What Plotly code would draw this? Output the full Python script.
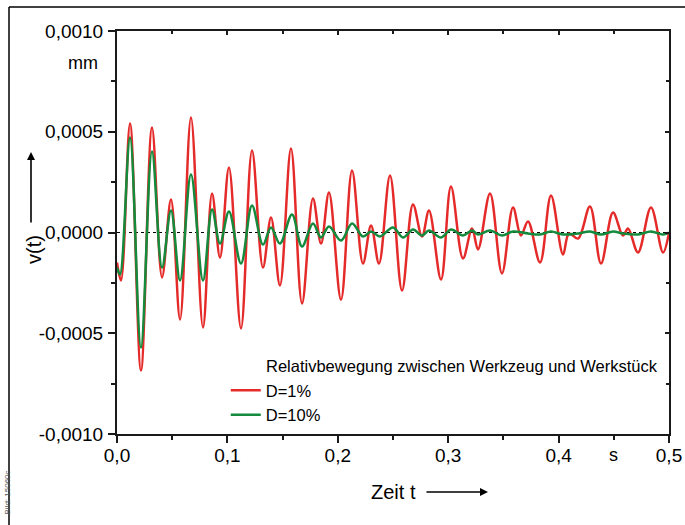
import plotly.graph_objects as go

# ---- data ----
t_red = [0.0000, 0.0036, 0.0118, 0.0217, 0.0317, 0.0408, 0.0489, 0.0571, 0.0670, 0.0779,
         0.0861, 0.0933, 0.1014, 0.1123, 0.1223, 0.1322, 0.1395, 0.1476, 0.1576, 0.1676,
         0.1775, 0.1848, 0.1920, 0.2029, 0.2129, 0.2228, 0.2301, 0.2373, 0.2473, 0.2582,
         0.2681, 0.2763, 0.2826, 0.2935, 0.3025, 0.3134, 0.3216, 0.3270, 0.3379, 0.3487,
         0.3587, 0.3659, 0.3723, 0.3832, 0.3931, 0.4040, 0.4094, 0.4176, 0.4284, 0.4384,
         0.4493, 0.4583, 0.4629, 0.4719, 0.4837, 0.4946, 0.5000]
v_red = [-0.000149, -0.000238, 0.000541, -0.000685, 0.000521, -0.000223, 0.000164, -0.000432, 0.000571, -0.000471,
         0.000194, -0.000124, 0.000323, -0.000476, 0.000407, -0.000174, 0.000074, -0.000263, 0.000417, -0.000352,
         0.000169, -0.000055, 0.000199, -0.000333, 0.000308, -0.000154, 0.000035, -0.000154, 0.000283, -0.000288,
         0.000139, -0.000020, 0.000109, -0.000233, 0.000228, -0.000129, 0.000020, -0.000084, 0.000194, -0.000203,
         0.000124, -0.000015, 0.000055, -0.000149, 0.000184, -0.000109, -0.000005, -0.000030, 0.000129, -0.000154,
         0.000099, -0.000015, 0.000020, -0.000099, 0.000124, -0.000099, 0.000000]

t_green = [0.0000, 0.0027, 0.0118, 0.0217, 0.0317, 0.0408, 0.0489, 0.0571, 0.0670, 0.0779,
           0.0861, 0.0933, 0.1014, 0.1123, 0.1223, 0.1322, 0.1395, 0.1476, 0.1585, 0.1676,
           0.1775, 0.1848, 0.1920, 0.2029, 0.2129, 0.2228, 0.2301, 0.2382, 0.2500, 0.2591,
           0.2681, 0.2763, 0.2826, 0.2935, 0.3025, 0.3134, 0.3216, 0.3270, 0.3379, 0.3487,
           0.3587, 0.3723, 0.3832, 0.3931, 0.4040, 0.4176, 0.4284, 0.4384, 0.4493, 0.4583,
           0.4719, 0.4837, 0.4946, 0.5000]
v_green = [-0.000174, -0.000208, 0.000471, -0.000571, 0.000402, -0.000174, 0.000109, -0.000238, 0.000288, -0.000238,
           0.000114, -0.000055, 0.000104, -0.000154, 0.000134, -0.000060, 0.000025, -0.000055, 0.000089, -0.000069,
           0.000045, -0.000025, 0.000030, -0.000040, 0.000045, -0.000020, 0.000005, -0.000020, 0.000025, -0.000025,
           0.000015, -0.000015, 0.000010, -0.000025, 0.000015, -0.000015, 0.000010, -0.000010, 0.000010, -0.000015,
           0.000005, -0.000005, -0.000010, 0.000005, -0.000010, -0.000005, 0.000005, -0.000010, 0.000005, -0.000005,
           -0.000010, 0.000005, -0.000010, 0.000000]

x_ticks = [0.0, 0.1, 0.2, 0.3, 0.4, 0.5]
x_ticktext = ["0,0", "0,1", "0,2", "0,3", "0,4", "0,5"]
x_minor = [0.05, 0.15, 0.25, 0.35, 0.45]
y_ticks = [-0.001, -0.0005, 0.0, 0.0005, 0.001]
y_ticktext = ["-0,0010", "-0,0005", "0,0000", "0,0005", "0,0010"]
y_minor = [-0.00075, -0.00025, 0.00025, 0.00075]

legend_title = "Relativbewegung zwischen Werkzeug und Werkstück"
FONT = "Liberation Sans, Arial, sans-serif"

fig = go.Figure()
fig.add_trace(go.Scatter(x=t_red, y=v_red, mode="lines", name="D=1%",
                         line=dict(color="#e52a2a", width=2.5, shape="spline", smoothing=1.0)))
fig.add_trace(go.Scatter(x=t_green, y=v_green, mode="lines", name="D=10%",
                         line=dict(color="#138a3c", width=2.5, shape="spline", smoothing=1.0)))
# helper trace so that the mirrored (inside-tick) axes are drawn
fig.add_trace(go.Scatter(x=[0], y=[0], xaxis="x2", yaxis="y2", mode="markers",
                         marker=dict(opacity=0), showlegend=False, hoverinfo="skip"))

axis_common = dict(showgrid=False, zeroline=False, linecolor="#1a1a1a", linewidth=2,
                   tickcolor="#1a1a1a", tickwidth=1.5, automargin=False)

fig.update_layout(
    width=685, height=525,
    margin=dict(l=117, r=16, t=31, b=91),
    paper_bgcolor="white", plot_bgcolor="white",
    font=dict(family=FONT, size=19, color="black"),
    xaxis=dict(range=[0, 0.5], tickmode="array", tickvals=x_ticks, ticktext=x_ticktext,
               ticks="outside", ticklen=7, showline=True,
               minor=dict(tickmode="array", tickvals=x_minor, ticks="outside", ticklen=4,
                          tickcolor="#1a1a1a", tickwidth=1.5),
               ticklabelstandoff=-4, **axis_common),
    yaxis=dict(range=[-0.001, 0.001], tickmode="array", tickvals=y_ticks, ticktext=y_ticktext,
               ticks="outside", ticklen=7, showline=True,
               minor=dict(tickmode="array", tickvals=y_minor, ticks="outside", ticklen=4,
                          tickcolor="#1a1a1a", tickwidth=1.5),
               ticklabelstandoff=1, **axis_common),
    xaxis2=dict(range=[0, 0.5], overlaying="x", side="top", anchor="y2", tickmode="array",
                tickvals=x_ticks, ticks="inside", ticklen=4, showticklabels=False, showline=True,
                minor=dict(tickmode="array", tickvals=x_minor, ticks="inside", ticklen=3,
                           tickcolor="#1a1a1a", tickwidth=1.5),
                **axis_common),
    yaxis2=dict(range=[-0.001, 0.001], overlaying="y", side="right", anchor="x2", tickmode="array",
                tickvals=y_ticks, ticks="inside", ticklen=4, showticklabels=False, showline=True,
                minor=dict(tickmode="array", tickvals=y_minor, ticks="inside", ticklen=3,
                           tickcolor="#1a1a1a", tickwidth=1.5),
                **axis_common),
    showlegend=True,
    legend=dict(x=0.197, y=0.151, xanchor="left", yanchor="top", bgcolor="rgba(0,0,0,0)",
                font=dict(family=FONT, size=16.5, color="black"), traceorder="normal"),
    shapes=[
        dict(type="line", xref="x", yref="y", x0=0, x1=0.5, y0=0, y1=0,
             line=dict(color="black", width=1, dash="dot"), layer="below"),
        # outer frame
        dict(type="line", xref="paper", yref="paper",
             x0=(9 - 117) / 552, x1=(700 - 117) / 552, y0=(434 - 7) / 403, y1=(434 - 7) / 403,
             line=dict(color="black", width=1.5)),
        dict(type="line", xref="paper", yref="paper",
             x0=(9 - 117) / 552, x1=(9 - 117) / 552, y0=(434 - 7) / 403, y1=(434 - 540) / 403,
             line=dict(color="black", width=1.5)),
    ],
    annotations=[
        dict(text=legend_title, xref="paper", yref="paper", x=(264 - 117) / 552, y=(434 - 366) / 403,
             xanchor="left", yanchor="middle", showarrow=False,
             font=dict(family=FONT, size=16.5, color="black")),
        dict(text="mm", xref="paper", yref="y", x=(100 - 117) / 552, y=0.00084,
             xanchor="right", yanchor="middle", showarrow=False, font=dict(size=18)),
        dict(text="s", xref="x", yref="paper", x=0.45, y=(434 - 455) / 403,
             xanchor="center", yanchor="middle", showarrow=False, font=dict(size=18)),
        dict(text="Zeit t", xref="paper", yref="paper", x=(369 - 117) / 552, y=(434 - 492) / 403,
             xanchor="left", yanchor="middle", showarrow=False, font=dict(size=20)),
        dict(text="", xref="paper", yref="paper", x=(488 - 117) / 552, y=(434 - 492) / 403,
             ax=-63, ay=0, showarrow=True, arrowhead=2, arrowsize=1, arrowwidth=1.6,
             arrowcolor="black"),
        dict(text="v(t)", xref="paper", yref="paper", x=(34 - 117) / 552, y=(434 - 250) / 403,
             xanchor="center", yanchor="middle", textangle=-90, showarrow=False,
             font=dict(size=20)),
        dict(text="", xref="paper", yref="paper", x=(31 - 117) / 552, y=(434 - 152) / 403,
             ax=0, ay=72, showarrow=True, arrowhead=2, arrowsize=1, arrowwidth=1.6,
             arrowcolor="black"),
        dict(text="Bild: 15060c", xref="paper", yref="paper", x=(0 - 117) / 552, y=(434 - 493) / 403,
             xanchor="left", yanchor="middle", textangle=-90, showarrow=False,
             font=dict(size=8, color="#555555")),
    ],
)

# remove the browser's default 8 px page margin so the 685x525 figure fills the window exactly
fig.write_html("out.html", config={"displayModeBar": False},
               post_script="document.body.style.margin='0';")
